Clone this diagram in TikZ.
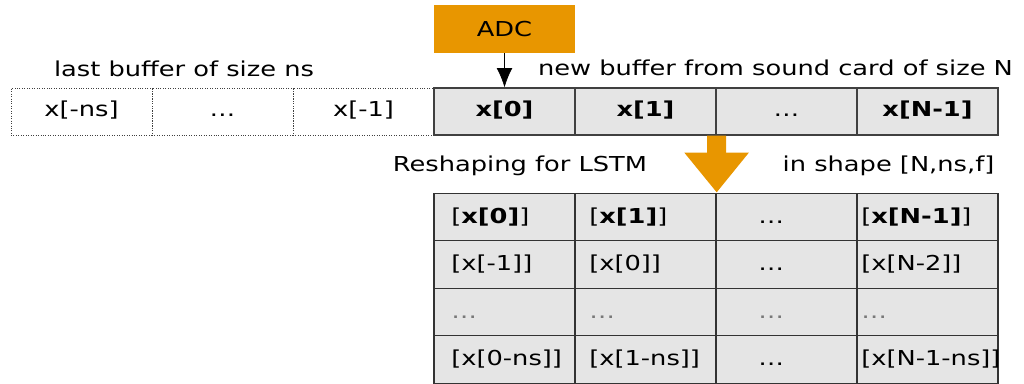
\documentclass[tikz,border=0pt]{standalone}
\usepackage{fontspec}
\setmainfont{DejaVu Sans}[FakeStretch=1.25]
\usetikzlibrary{arrows.meta}
\definecolor{adcorange}{RGB}{232,150,0}
\definecolor{cellgray}{RGB}{229,229,229}
\definecolor{dotgray}{RGB}{120,120,120}

\begin{document}
\begin{tikzpicture}[x=0.02cm, y=-0.02cm,
	every node/.style={font=\fontsize{11.7pt}{14pt}\selectfont, inner sep=0pt},
	oldcell/.style={draw=black!75, densely dotted, minimum width=2.82cm, minimum height=0.94cm, text height=8.8pt, text depth=2.6pt},
	newcell/.style={draw=black!75, fill=cellgray, line width=0.7pt, minimum width=2.82cm, minimum height=0.94cm, text height=8.8pt, text depth=2.6pt},
	tabcell/.style={draw=black!80, fill=cellgray, line width=0.8pt, minimum width=2.82cm, minimum height=0.95cm},
	entry/.style={anchor=west, text height=8.8pt, text depth=2.6pt},
	faint/.style={entry, text=dotgray}]
			\useasboundingbox (0,0) rectangle (1024,384);
			
			% sources
			\node[fill=adcorange, minimum width=2.82cm, minimum height=0.96cm] (adc) at (504.5,29){ADC};
			\node[anchor=base] (lastlbl) at (184,77){last buffer of size ns};
			\node[anchor=base] (newlbl) at (775.5,76){new buffer from sound card of size N};
			
			% old and new buffer
			\node[oldcell] (o1) at (81.5,111.5){x[-ns]};
			\node[oldcell] (o2) at (222.5,111.5){…};
			\node[oldcell] (o3) at (363.5,111.5){x[-1]};
			\node[newcell] (n0) at (504.5,111.5){\textbf{x[0]}};
			\node[newcell] (n1) at (645.5,111.5){\textbf{x[1]}};
			\node[newcell] (n2) at (786.5,111.5){…};
			\node[newcell] (n3) at (927.5,111.5){\textbf{x[N-1]}};
			
			\node[anchor=base] (reslbl) at (520,172){Reshaping for LSTM};
			\node[anchor=base] (shapelbl) at (888.5,172){in shape [N,ns,f]};
			
			% LSTM input table
			\node[tabcell] (m11) at (504.5,217){};
			\node[tabcell] (m12) at (645.5,217){};
			\node[tabcell] (m13) at (786.5,217){};
			\node[tabcell] (m14) at (927.5,217){};
			\node[tabcell] (m21) at (504.5,264.5){};
			\node[tabcell] (m22) at (645.5,264.5){};
			\node[tabcell] (m23) at (786.5,264.5){};
			\node[tabcell] (m24) at (927.5,264.5){};
			\node[tabcell] (m31) at (504.5,312){};
			\node[tabcell] (m32) at (645.5,312){};
			\node[tabcell] (m33) at (786.5,312){};
			\node[tabcell] (m34) at (927.5,312){};
			\node[tabcell] (m41) at (504.5,359.5){};
			\node[tabcell] (m42) at (645.5,359.5){};
			\node[tabcell] (m43) at (786.5,359.5){};
			\node[tabcell] (m44) at (927.5,359.5){};
			
			\node[entry] (e11) at (451,218){[\textbf{x[0]}]};
			\node[entry] (e12) at (589,218){[\textbf{x[1]}]};
			\node[entry] (e13) at (758,218){…};
			\node[entry] (e14) at (861,218){[\textbf{x[N-1]}]};
			\node[entry] (e21) at (451,265.5){[x[-1]]};
			\node[entry] (e22) at (589,265.5){[x[0]]};
			\node[entry] (e23) at (758,265.5){…};
			\node[entry] (e24) at (861,265.5){[x[N-2]]};
			\node[faint] (e31) at (451,313){…};
			\node[faint] (e32) at (589,313){…};
			\node[faint] (e33) at (758,313){…};
			\node[faint] (e34) at (861,313){…};
			\node[entry] (e41) at (451,360.5){[x[0-ns]]};
			\node[entry] (e42) at (589,360.5){[x[1-ns]]};
			\node[entry] (e43) at (758,360.5){…};
			\node[entry] (e44) at (861,360.5){[x[N-1-ns]]};
			
			\draw[black, thin, -{Latex[width=9pt,length=11pt]}] (adc.south) -- (n0.north);
			\draw[adcorange, line width=0.38cm, -{Triangle[width=1.24cm,length=0.8cm]}] (n1.south east) -- (m12.north east);
\end{tikzpicture}
\end{document}
